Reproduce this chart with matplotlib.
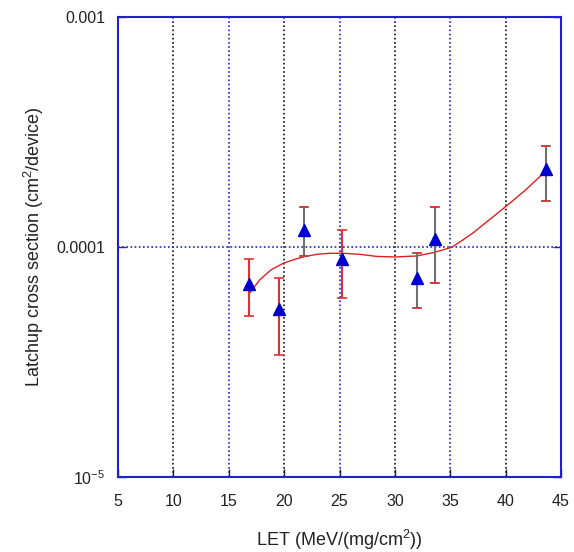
import numpy as np
import matplotlib
matplotlib.use('Agg')
import matplotlib.pyplot as plt

plt.rcParams['font.family'] = ['Liberation Sans', 'DejaVu Sans']
plt.rcParams['mathtext.fontset'] = 'custom'
plt.rcParams['mathtext.rm'] = 'Liberation Sans'
plt.rcParams['mathtext.it'] = 'Liberation Sans'

# measured points
let = [16.8, 19.5, 21.8, 25.25, 32.0, 33.6, 43.6]
xsec = [6.9e-5, 5.35e-5, 1.18e-4, 8.9e-5, 7.3e-5, 1.08e-4, 2.18e-4]
err_hi = [8.9e-5, 7.3e-5, 1.49e-4, 1.19e-4, 9.4e-5, 1.49e-4, 2.75e-4]
err_lo = [5.0e-5, 3.4e-5, 9.1e-5, 6.0e-5, 5.45e-5, 6.95e-5, 1.59e-4]
bar_colors = ['#e03030', '#e03030', '#707070', '#e03030', '#707070', '#707070', '#707070']

# fit curve
fit_let = [16.83, 17.8, 18.8, 19.93, 21.0, 21.82, 23.0, 24.14, 25.5, 26.85, 28.36,
           30.0, 31.97, 33.47, 35.13, 36.1, 37.08, 38.5, 39.94, 41.8, 43.58]
fit_xsec = [6.25e-5, 7.2e-5, 7.95e-5, 8.5e-5, 8.85e-5, 9.08e-5, 9.3e-5, 9.39e-5, 9.38e-5,
            9.29e-5, 9.1e-5, 9.05e-5, 9.14e-5, 9.45e-5, 9.97e-5, 1.07e-4, 1.154e-4,
            1.31e-4, 1.49e-4, 1.77e-4, 2.13e-4]

xticks = [5, 10, 15, 20, 25, 30, 35, 40, 45]
yticks = [1e-5, 1e-4, 1e-3]
ytick_labels = ['10$^{-5}$', '0.0001', '0.001']

fig = plt.figure(figsize=(5.74, 5.52), dpi=100)
ax = fig.add_axes([0.2056, 0.1359, 0.7718, 0.8333])

ax.set_yscale('log')
ax.set_xlim(5, 45)
ax.set_ylim(1e-5, 1e-3)

ax.plot(fit_let, fit_xsec, color='#e02020', lw=1.0, zorder=2)

for x, y, lo, hi, c in zip(let, xsec, err_lo, err_hi, bar_colors):
    ax.errorbar([x], [y], yerr=[[y - lo], [hi - y]], fmt='none', ecolor=c,
                elinewidth=1.5, capsize=3.5, capthick=1.2, zorder=3)
    if c != '#e03030':
        # red caps on the grey bars
        ax.plot([x - 0.3, x + 0.3], [hi, hi], color='#e03030', lw=1.2, zorder=4)
        ax.plot([x - 0.3, x + 0.3], [lo, lo], color='#e03030', lw=1.2, zorder=4)
ax.plot(let, xsec, linestyle='none', marker='^', color='#0000cc', markersize=8, zorder=5)

ax.set_xticks(xticks)
ax.set_xticklabels([str(t) for t in xticks])
ax.set_yticks(yticks)
ax.set_yticklabels(ytick_labels)
ax.yaxis.set_minor_locator(matplotlib.ticker.NullLocator())

ax.grid(True, linestyle=(0, (1.0, 1.5)), linewidth=1.2)
for t, gl in zip(xticks, ax.xaxis.get_gridlines()):
    gl.set_color('#2020d0' if t % 10 == 5 else '#111111')
for gl in ax.yaxis.get_gridlines():
    gl.set_color('#2020d0')

ax.tick_params(axis='x', direction='in', length=6, width=1, labelsize=11.5,
               colors='#222222', pad=12)
ax.tick_params(axis='y', direction='in', length=6, width=1, labelsize=11.5,
               colors='#2020d0', labelcolor='#222222', pad=9, right=True)

for s in ax.spines.values():
    s.set_color('#2020cc')
    s.set_linewidth(1.5)

ax.set_xlabel('LET (MeV/(mg/cm$^2$))', fontsize=13, labelpad=14, color='#222222')
ax.set_ylabel('Latchup cross section (cm$^2$/device)', fontsize=13, labelpad=8,
              color='#222222')

fig.savefig('out.png', dpi=100, facecolor='white')
